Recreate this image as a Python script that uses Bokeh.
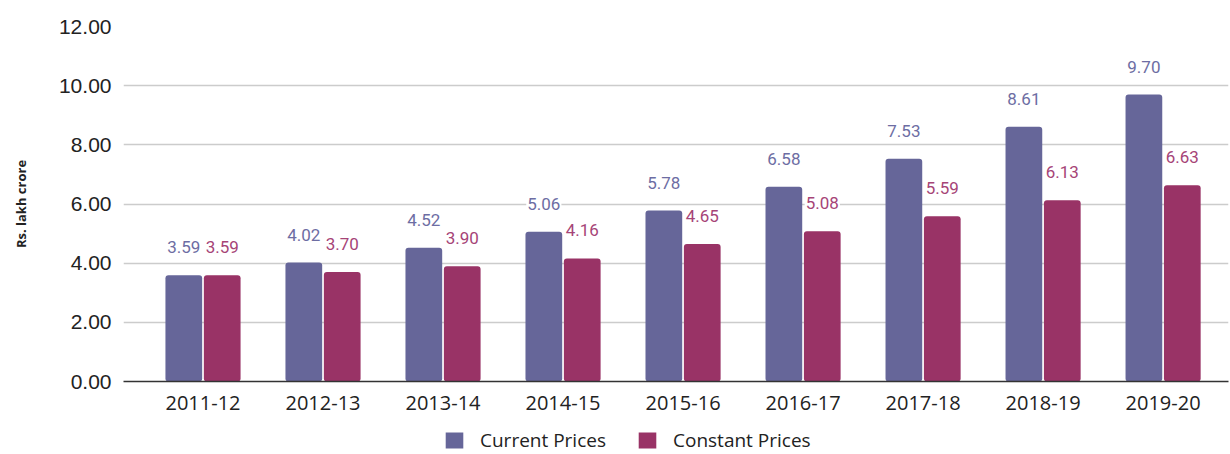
from bokeh.plotting import figure
from bokeh.layouts import column
from bokeh.models import ColumnDataSource, Range1d, FixedTicker, Legend, LegendItem, NumeralTickFormatter
from bokeh.core.properties import value
from bokeh.embed import file_html
from bokeh.resources import INLINE

years = ["2011-12", "2012-13", "2013-14", "2014-15", "2015-16", "2016-17", "2017-18", "2018-19", "2019-20"]
current_prices = [3.59, 4.02, 4.52, 5.06, 5.78, 6.58, 7.53, 8.61, 9.70]
constant_prices = [3.59, 3.70, 3.90, 4.16, 4.65, 5.08, 5.59, 6.13, 6.63]
y_ticks = [0, 2, 4, 6, 8, 10, 12]
series_names = ["Current Prices", "Constant Prices"]

CUR = "#666699"
CON = "#993366"
CUR_T = "#6d6da3"
CON_T = "#a64477"

idx = list(range(len(years)))
src = ColumnDataSource(dict(
    xc=[i - 0.16 for i in idx],
    xk=[i + 0.16 for i in idx],
    cur=current_prices,
    con=constant_prices,
    cur_lbl=[f"{v:.2f}" for v in current_prices],
    con_lbl=[f"{v:.2f}" for v in constant_prices],
))

main = figure(width=1230, height=420, output_backend="svg", toolbar_location=None,
              x_range=Range1d(-0.6625, 8.545), y_range=Range1d(0, 12),
              min_border_left=123, min_border_right=2, min_border_top=26, min_border_bottom=39)
main.outline_line_color = None
main.background_fill_color = "white"

main.vbar(x="xc", top="cur", width=0.306, source=src, fill_color=CUR, line_color=None, border_radius=3)
main.vbar(x="xk", top="con", width=0.306, source=src, fill_color=CON, line_color=None, border_radius=3)

main.text(x="xc", y="cur", text="cur_lbl", source=src, text_align="center", text_baseline="middle",
          y_offset=-28, text_color=CUR_T, text_font=value("Roboto"), text_font_size="17px",
          background_fill_color="white", padding=1)
main.text(x="xk", y="con", text="con_lbl", source=src, text_align="center", text_baseline="middle",
          y_offset=-28, text_color=CON_T, text_font=value("Roboto"), text_font_size="17px",
          background_fill_color="white", padding=1)

# axes
main.xaxis.ticker = FixedTicker(ticks=idx)
main.xaxis.major_label_overrides = {i: y for i, y in enumerate(years)}
main.xaxis.major_tick_line_color = None
main.xaxis.minor_tick_line_color = None
main.xaxis.axis_line_color = "#333333"
main.xaxis.axis_line_width = 1.5
main.xaxis.major_label_text_font = "Open Sans"
main.xaxis.major_label_text_font_size = "20px"
main.xaxis.major_label_text_color = "#222222"
main.xaxis.major_label_standoff = 8
main.xgrid.grid_line_color = None

main.yaxis.ticker = FixedTicker(ticks=y_ticks)
main.yaxis.formatter = NumeralTickFormatter(format="0.00")
main.yaxis.major_tick_line_color = None
main.yaxis.minor_tick_line_color = None
main.yaxis.axis_line_color = None
main.yaxis.major_label_text_font = "Liberation Sans"
main.yaxis.major_label_text_font_size = "21px"
main.yaxis.major_label_text_color = "#222222"
main.yaxis.major_label_standoff = 6
main.yaxis.axis_label = "Rs. lakh crore"
main.yaxis.axis_label_text_font = "Open Sans"
main.yaxis.axis_label_text_font_style = "bold"
main.yaxis.axis_label_text_font_size = "13px"
main.yaxis.axis_label_text_color = "#222222"
main.yaxis.axis_label_standoff = 26
main.ygrid.grid_line_color = "#cccccc"
main.ygrid.grid_line_width = 1.3

# legend strip (frame is aligned with the main figure's frame by the column layout)
lf = figure(width=1230, height=34, output_backend="svg", toolbar_location=None,
            x_range=Range1d(0, 1), y_range=Range1d(0, 1), x_axis_type=None, y_axis_type=None,
            min_border_left=0, min_border_right=0, min_border_top=0, min_border_bottom=0)
lf.outline_line_color = None
lf.grid.grid_line_color = None
swatch = ColumnDataSource(dict(x=[-10], top=[0]))
lr1 = lf.vbar(x="x", top="top", width=0.1, source=swatch, fill_color=CUR, line_color=None)
lr2 = lf.vbar(x="x", top="top", width=0.1, source=swatch, fill_color=CON, line_color=None)
legend = Legend(items=[LegendItem(label=series_names[0], renderers=[lr1]),
                       LegendItem(label=series_names[1], renderers=[lr2])],
                location=(320, 1), orientation="horizontal",
                glyph_width=22, glyph_height=20, label_standoff=15, spacing=30,
                label_text_font="Open Sans", label_text_font_size="19px",
                label_text_color="#222222", border_line_color=None,
                background_fill_alpha=0, padding=0, margin=0)
lf.add_layout(legend)

p = column(main, lf, spacing=0)

open("out.html", "w").write(file_html(p, INLINE))
